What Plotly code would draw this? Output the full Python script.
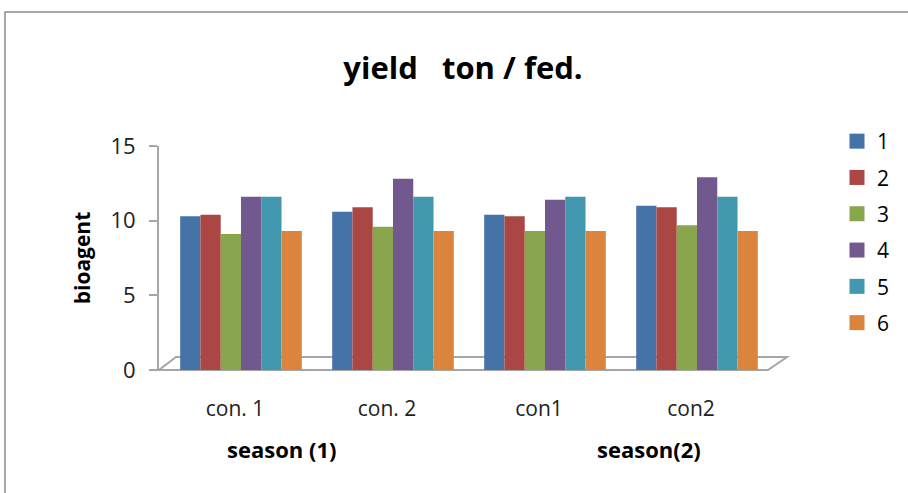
import plotly.graph_objects as go

categories = ["con. 1", "con. 2", "con1", "con2"]
series_names = ["1", "2", "3", "4", "5", "6"]
series_values = {
    "1": [10.3, 10.6, 10.4, 11.0],
    "2": [10.4, 10.9, 10.3, 10.9],
    "3": [9.1, 9.6, 9.3, 9.7],
    "4": [11.6, 12.8, 11.4, 12.9],
    "5": [11.6, 11.6, 11.6, 11.6],
    "6": [9.3, 9.3, 9.3, 9.3],
}
series_colors = ["#4572A7", "#AA4643", "#89A54E", "#71588F", "#4198AF", "#DB843D"]
y_ticks = [0, 5, 10, 15]
title_text = "yield\u00a0\u00a0\u00a0ton / fed."
y_title = "bioagent"
group_labels = ["season (1)", "season(2)"]

FONT = "Open Sans"
W, H = 908, 493
L, R, T, B = 159, 908 - 774, 146, 493 - 370
pw, ph = W - L - R, H - T - B

def px2paper_x(px):
    return (px - L) / pw

def px2paper_y(py):
    return (H - B - py) / ph

fig = go.Figure()
for name, color in zip(series_names, series_colors):
    fig.add_trace(go.Bar(
        x=categories, y=series_values[name], name=name,
        marker=dict(color=color, line=dict(width=0)),
        showlegend=False, legendgroup=name,
    ))
for name, color in zip(series_names, series_colors):
    fig.add_trace(go.Scatter(
        x=[None], y=[None], mode="markers", name=name, legendgroup=name,
        marker=dict(symbol="square", size=15, color=color),
        showlegend=True,
    ))

shapes = []
# outer chart frame (partially cropped)
shapes.append(dict(type="rect", xref="paper", yref="paper",
                   x0=px2paper_x(5), x1=px2paper_x(1200),
                   y0=px2paper_y(800), y1=px2paper_y(12),
                   line=dict(color="#8C8C8C", width=1.5), layer="below"))
# 3D floor
fx0, fx1 = px2paper_x(159), px2paper_x(768)
bx0, bx1 = px2paper_x(176), px2paper_x(787)
fy, by = px2paper_y(370), px2paper_y(357)
shapes.append(dict(type="path", xref="paper", yref="paper",
                   path=f"M {fx0},{fy} L {fx1},{fy} L {bx1},{by} L {bx0},{by} Z",
                   fillcolor="white", line=dict(color="#A6A6A6", width=2),
                   layer="below"))

annotations = [
    dict(text=f"<b>{group_labels[0]}</b>", xref="paper", yref="paper",
         x=px2paper_x(281), y=px2paper_y(449), showarrow=False,
         xanchor="center", yanchor="middle",
         font=dict(family=FONT, size=22, color="#000")),
    dict(text=f"<b>{group_labels[1]}</b>", xref="paper", yref="paper",
         x=px2paper_x(649), y=px2paper_y(449), showarrow=False,
         xanchor="center", yanchor="middle",
         font=dict(family=FONT, size=22, color="#000")),
]

fig.update_layout(
    width=W, height=H,
    margin=dict(l=L, r=R, t=T, b=B, pad=0),
    paper_bgcolor="white", plot_bgcolor="rgba(0,0,0,0)",
    barmode="group", bargap=0.2, bargroupgap=0,
    font=dict(family=FONT, color="#000"),
    title=dict(text=f"<b>{title_text}</b>", xref="container", yref="container",
               x=463 / W, y=1 - 68 / H, xanchor="center", yanchor="middle",
               font=dict(family=FONT, size=31, color="#000")),
    legend=dict(xref="container", yref="container", x=837 / W, y=1 - 121 / H,
                xanchor="left", yanchor="top", font=dict(family=FONT, size=21),
                tracegroupgap=6, itemsizing="trace", bgcolor="rgba(0,0,0,0)"),
    shapes=shapes, annotations=annotations,
)
fig.update_xaxes(
    type="category", range=[-0.5 - 6 / 152.2, 3.5 + 1 / 152.2],
    showline=False, showgrid=False, zeroline=False, ticks="",
    tickfont=dict(family=FONT, size=21, color="#222"),
    ticklabelstandoff=24, ticklabelshift=-6,
)
fig.update_yaxes(
    range=[0, 15], tickvals=y_ticks, showgrid=False, zeroline=False,
    showline=True, linecolor="#A6A6A6", linewidth=2,
    ticks="outside", ticklen=8, tickcolor="#A6A6A6", tickwidth=2,
    tickfont=dict(family=FONT, size=22, color="#222"), ticklabelstandoff=9,
    title=dict(text=f"<b>{y_title}</b>", font=dict(family=FONT, size=21, color="#000"),
               standoff=14),
)

fig.write_html("out.html", config={"displayModeBar": False},
               post_script="document.body.style.margin='0';")
